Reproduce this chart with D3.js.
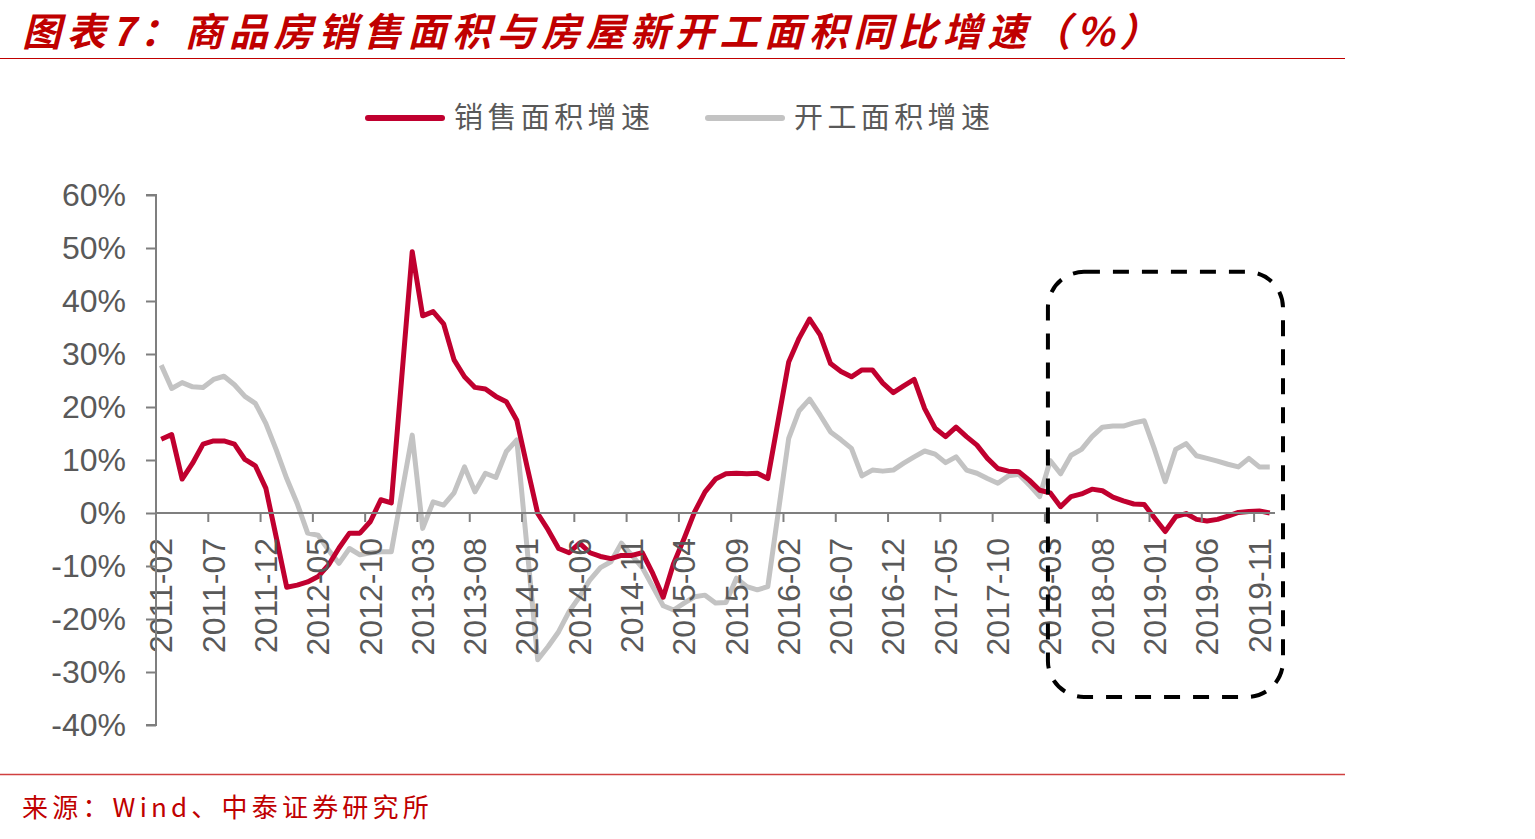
<!DOCTYPE html>
<html><head><meta charset="utf-8">
<script src="https://cdn.jsdelivr.net/npm/d3@7"></script>
<style>
html,body{margin:0;padding:0;background:#fff;}
svg{display:block;}
</style></head>
<body>
<svg id="chart" width="1535" height="839"></svg>
<script>
// ---- data ----
const titleText = "图表7：商品房销售面积与房屋新开工面积同比增速（%）";
const sourceText = "来源：Wind、中泰证券研究所";
const seriesNames = ["销售面积增速", "开工面积增速"];
const months = d3.timeMonth.range(new Date(2011, 1, 1), new Date(2020, 0, 1)).map(d3.timeFormat("%Y-%m"));
const salesGrowth = [
 13.9,14.8,6.4,9.4,13.0,13.6,13.6,13.0,10.1,8.9,
 4.7,-4.6,-14.0,-13.6,-13.0,-12.0,-9.8,-6.6,-3.8,-3.8,
 -1.6,2.5,1.9,25.6,49.3,37.2,38.0,35.7,28.9,25.7,
 23.7,23.4,22.0,21.0,17.5,8.6,-0.1,-3.2,-6.7,-7.5,
 -5.7,-7.5,-8.2,-8.6,-8.0,-8.0,-7.5,-11.4,-15.9,-9.5,
 -4.8,0.2,4.0,6.4,7.4,7.5,7.4,7.5,6.5,17.5,
 28.5,33.0,36.6,33.6,28.2,26.7,25.7,27.0,27.0,24.5,
 22.7,24.0,25.2,19.7,16.0,14.4,16.2,14.4,12.8,10.3,
 8.4,7.9,7.8,6.2,4.3,3.8,1.2,3.1,3.6,4.5,
 4.2,3.0,2.3,1.7,1.6,-1.0,-3.5,-0.7,-0.1,-1.2,
 -1.5,-1.2,-0.6,0.1,0.3,0.4,0.0
];
const startsGrowth = [
 27.9,23.5,24.6,23.8,23.7,25.2,25.8,24.2,22.0,20.7,
 16.9,11.9,6.5,1.8,-3.8,-4.2,-7.0,-9.5,-6.7,-7.9,
 -7.5,-7.3,-7.3,3.7,14.7,-2.9,2.1,1.5,3.8,8.7,
 4.0,7.5,6.7,11.6,13.8,-7.0,-27.7,-25.2,-22.4,-18.6,
 -15.8,-12.6,-10.3,-9.2,-5.7,-8.0,-10.3,-13.9,-17.5,-18.3,
 -17.0,-15.8,-15.5,-17.0,-16.9,-12.3,-13.9,-14.5,-13.9,0.1,
 14.1,19.3,21.5,18.5,15.3,13.8,12.2,7.0,8.1,7.9,
 8.1,9.4,10.6,11.7,11.1,9.5,10.6,8.1,7.5,6.5,
 5.6,7.0,7.3,5.3,3.1,9.9,7.4,10.9,12.0,14.4,
 16.2,16.4,16.4,17.0,17.4,11.9,5.9,12.0,13.1,10.8,
 10.3,9.8,9.2,8.7,10.3,8.7,8.7
];
const yTicks = [-40,-30,-20,-10,0,10,20,30,40,50,60];
const tickLabels = months.filter((d,i)=> i % 5 === 0);
// highlighted window (annotation)
const highlightFrom = "2018-03";
const highlightRange = [45.5, -34.7];

// ---- drawing ----
const svg = d3.select("#chart");
const RED = "#C0002F", GREY = "#C3C3C3", AX = "#7F7F7F", TXT = "#595959";

const x = d3.scaleBand().domain(months).range([156, 1275]).padding(0);
const y = d3.scaleLinear().domain([-40, 60]).range([725, 195]);
const cx = d => x(d) + x.bandwidth()/2;

// title
svg.append("text").attr("x", 22).attr("y", 46)
  .attr("font-family", "'Noto Sans CJK SC'").attr("font-size", 39)
  .attr("font-weight", "bold").attr("font-style", "italic")
  .attr("letter-spacing", 5.6)
  .attr("fill", "#C00000").text(titleText);
svg.append("line").attr("x1", 0).attr("x2", 1345).attr("y1", 58.5).attr("y2", 58.5)
  .attr("stroke", "#C00000").attr("stroke-width", 1);

// legend
const legend = [
  {name: seriesNames[0], color: RED, x: 365},
  {name: seriesNames[1], color: GREY, x: 705}
];
legend.forEach(l => {
  svg.append("line").attr("x1", l.x + 3).attr("x2", l.x + 77).attr("y1", 118).attr("y2", 118)
    .attr("stroke", l.color).attr("stroke-width", 6).attr("stroke-linecap", "round");
  svg.append("text").attr("x", l.x + 89).attr("y", 118).attr("dy", "0.36em")
    .attr("font-family", "'Noto Sans CJK SC'").attr("font-size", 29)
    .attr("letter-spacing", 4.4).attr("fill", TXT).text(l.name);
});

// lines
const line = d3.line().x((d,i)=> cx(months[i])).y(d => y(d));
svg.append("path").datum(startsGrowth).attr("d", line)
  .attr("fill", "none").attr("stroke", GREY).attr("stroke-width", 5).attr("stroke-linejoin", "round");
svg.append("path").datum(salesGrowth).attr("d", line)
  .attr("fill", "none").attr("stroke", RED).attr("stroke-width", 5).attr("stroke-linejoin", "round");

// x labels (drawn above lines)
svg.append("g").selectAll("text").data(tickLabels).join("text")
  .attr("transform", d => `translate(${cx(d)},${y(0) + 25}) rotate(-90)`)
  .attr("text-anchor", "end").attr("dy", "0.35em")
  .attr("font-family", "'Liberation Sans', Arial, sans-serif").attr("font-size", 32)
  .attr("fill", TXT).text(d => d);

// y axis
const yAxis = d3.axisLeft(y).tickValues(yTicks).tickSize(10).tickFormat(d => d + "%");
const gy = svg.append("g").attr("transform", `translate(${x.range()[0]},0)`).call(yAxis);
gy.select(".domain").attr("stroke", AX).attr("stroke-width", 2).attr("d", `M-10,${y(60)}H0V${y(-40)}H-10`);
gy.selectAll(".tick line").attr("stroke", AX).attr("stroke-width", 2);
gy.selectAll(".tick text").attr("x", -30).attr("font-family", "'Liberation Sans', Arial, sans-serif")
  .attr("font-size", 32).attr("fill", TXT);

// x axis at zero
const xAxis = d3.axisBottom(x).tickValues(tickLabels).tickSize(9).tickFormat("");
const gx = svg.append("g").attr("transform", `translate(0,${y(0)})`).call(xAxis);
gx.select(".domain").attr("stroke", AX).attr("stroke-width", 2).attr("d", `M${x.range()[0]},0H${x.range()[1]}`);
gx.selectAll(".tick").attr("transform", d => `translate(${x(d)},0)`);
gx.selectAll(".tick line").attr("stroke", AX).attr("stroke-width", 2);

// highlight box annotation
const bx0 = x(highlightFrom) + 3, bx1 = x.range()[1] + 8;
svg.append("rect").attr("x", bx0).attr("y", y(highlightRange[0]))
  .attr("width", bx1 - bx0).attr("height", y(highlightRange[1]) - y(highlightRange[0]))
  .attr("rx", 36).attr("ry", 36).attr("fill", "none")
  .attr("stroke", "#000").attr("stroke-width", 4).attr("stroke-dasharray", "16 13");

// source
svg.append("line").attr("x1", 0).attr("x2", 1345).attr("y1", 774.5).attr("y2", 774.5)
  .attr("stroke", "#D04040").attr("stroke-width", 1.5);
svg.append("text").attr("x", 22).attr("y", 808).attr("dy", "0.36em")
  .attr("font-family", "'Noto Sans CJK SC'").attr("font-size", 26)
  .attr("letter-spacing", 4.2).attr("fill", "#C00000").text(sourceText);
</script>
</body></html>
